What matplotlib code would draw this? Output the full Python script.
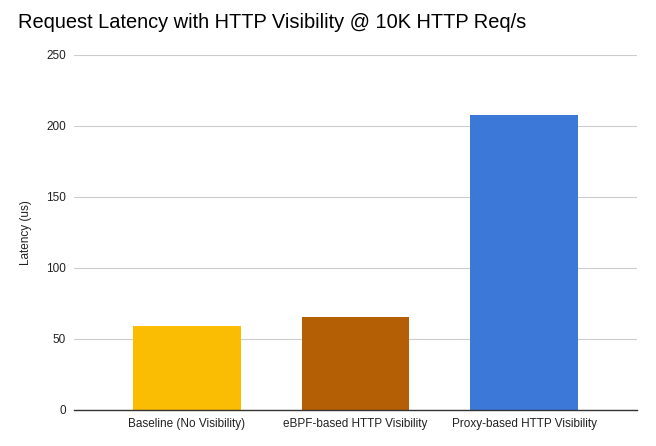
import matplotlib.pyplot as plt

plt.rcParams['font.family'] = ['Liberation Sans', 'DejaVu Sans']

# Data
categories = ['Baseline (No Visibility)', 'eBPF-based HTTP Visibility', 'Proxy-based HTTP Visibility']
latency_us = [59, 65.5, 208]
colors = ['#fbbc04', '#b45f06', '#3c78d8']

fig = plt.figure(figsize=(6.56, 4.46), dpi=100)
ax = fig.add_axes([0.113, 0.081, 0.858, 0.796])

ax.bar(range(len(categories)), latency_us, width=0.64, color=colors, zorder=3)

ax.set_ylim(0, 250)
ax.set_xlim(-0.67, 2.67)
ax.set_yticks([0, 50, 100, 150, 200, 250])
ax.set_xticks(range(len(categories)))
ax.set_xticklabels(categories)
ax.tick_params(axis='both', length=0, labelsize=8.5, colors='#222222', pad=6)
ax.grid(axis='y', color='#cccccc', linewidth=0.8, zorder=0)

for side in ['top', 'right', 'left']:
    ax.spines[side].set_visible(False)
ax.spines['bottom'].set_color('#333333')
ax.spines['bottom'].set_linewidth(1.0)
ax.spines['bottom'].set_zorder(4)

ax.set_ylabel('Latency (us)', fontsize=8.5, color='#222222', va='center')
ax.yaxis.set_label_coords(-0.085, 0.5)

fig.text(0.027, 0.95, 'Request Latency with HTTP Visibility @ 10K HTTP Req/s',
         fontsize=14.4, color='#000000', va='center', ha='left')

fig.savefig('out.png', dpi=100)
